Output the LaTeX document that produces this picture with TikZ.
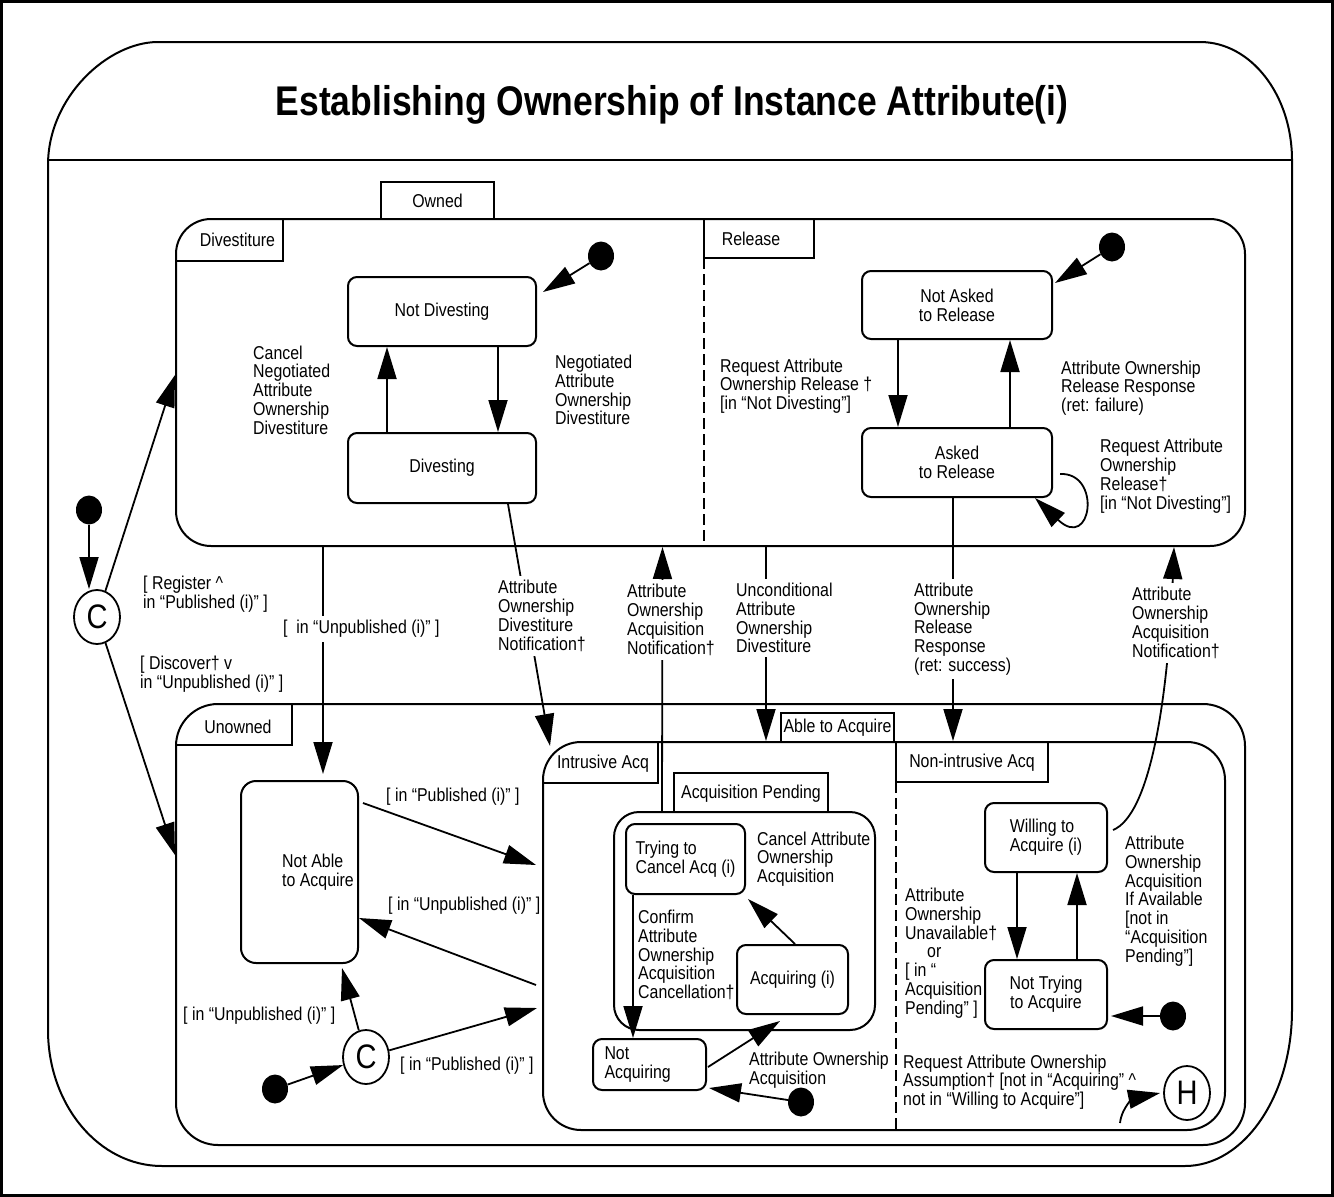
\documentclass[tikz,border=0pt]{standalone}
\usepackage{fontspec}
\setmainfont{Liberation Sans}[FakeStretch=0.855]
\usetikzlibrary{arrows.meta,shapes.geometric}
\newcommand\lblfont{\fontsize{18.6pt}{18.8pt}\selectfont}
\begin{document}
\begin{tikzpicture}[x=1pt,y=-1pt,
  lw/.style={line width=2pt},
  region/.style={draw, line width=2pt, inner sep=0pt},
  st/.style={draw, line width=2pt, rounded corners=9pt, inner sep=0pt, align=center, font=\lblfont},
  tab/.style={draw, line width=2pt},
  tablbl/.style={inner sep=0pt, font=\lblfont},
  lbl/.style={inner sep=0pt, align=left, anchor=west, font=\lblfont},
  wlbl/.style={lbl, fill=white, inner xsep=1pt, inner ysep=4pt},
  arr/.style={line width=1.8pt, -{Triangle[length=32pt,width=19pt]}},
  dot/.style={ellipse, fill=black, minimum width=26pt, minimum height=29pt, inner sep=0pt},
  pseudo/.style={ellipse, draw, line width=1.8pt, minimum width=46pt, minimum height=54pt, inner sep=0pt, font=\fontsize{34pt}{34pt}\selectfont},
  dashsep/.style={line width=1.6pt, dash pattern=on 11pt off 5pt}
]
\useasboundingbox (0,0) rectangle (1334,1197);
% page frame
\draw[line width=3pt] (1.5,1.5) rectangle (1332.5,1195.5);

% outer container with title compartment
\draw[lw] (48,165) .. controls (48,97) and (108,42) .. (158,42) -- (1200,42)
  .. controls (1251,42) and (1292,95) .. (1292,160) -- (1292,1010)
  .. controls (1292,1096) and (1244,1166) .. (1185,1166) -- (162,1166)
  .. controls (99,1166) and (48,1105) .. (48,1030) -- cycle;
\draw[lw] (48,160) -- (1292,160);
\node[font=\fontsize{41.5pt}{41.5pt}\selectfont\bfseries, anchor=base, inner sep=0pt] (title) at (672,115) {Establishing Ownership of Instance Attribute(i)};

% composite states
\node[region, rounded corners=35pt, minimum width=1069pt, minimum height=327pt] (owned) at (710.5,382.5) {};
\node[region, rounded corners=42pt, minimum width=1069pt, minimum height=441pt] (unowned) at (710.5,924.5) {};
\node[region, rounded corners=38pt, minimum width=682pt, minimum height=388pt] (able) at (884,936) {};
\node[region, rounded corners=25pt, minimum width=261pt, minimum height=218pt] (apend) at (744.5,921) {};

% tabs and concurrent region separators
\draw[tab] (381,219) |- (494,182) -- (494,219);
\node[tablbl] (towned) at (437.5,200.5) {Owned};
\draw[tab] (176,261) -| (283,219);
\node[tablbl] (tdiv) at (237.5,240) {Divestiture};
\draw[tab] (704,219) rectangle (814,258);
\node[tablbl] (trel) at (751,239) {Release};
\draw[dashsep] (704,258) -- (704,546);
\draw[tab] (176,745) -| (292,704);
\node[tablbl] (tunown) at (238,727) {Unowned};
\draw[tab] (781,742) |- (894,713) -- (894,742);
\node[tablbl] (table) at (837.5,728) {Able to Acquire};
\draw[tab] (543,783) -| (658,742);
\node[tablbl] (tintr) at (603,764) {Intrusive Acq};
\draw[tab] (896,742) rectangle (1048,782);
\node[tablbl] (tnonintr) at (972,763) {Non-intrusive Acq};
\draw[dashsep] (896,782) -- (896,1130);
\draw[tab] (674,812) |- (828,773) -- (828,812);
\node[tablbl] (tapend) at (751,794) {Acquisition Pending};

% simple states
\node[st, minimum width=188pt, minimum height=69pt] (nd) at (442,311.5) {Not Divesting};
\node[st, minimum width=188pt, minimum height=70pt] (dv) at (442,468) {Divesting};
\node[st, minimum width=190pt, minimum height=68pt] (nar) at (957,305) {Not Asked\\to Release};
\node[st, minimum width=190pt, minimum height=69pt] (atr) at (957,462.5) {Asked\\to Release};
\node[st, rounded corners=15pt, minimum width=117pt, minimum height=182pt] (naa) at (299.5,872) {};
\node[lbl] (naat) at (282,872) {Not Able\\to Acquire};
\node[st, minimum width=119pt, minimum height=70pt, align=left] (tca) at (685.5,859) {Trying to\\Cancel Acq (i)};
\node[st, minimum width=111pt, minimum height=69pt] (acq) at (792.5,979.5) {Acquiring (i)};
\node[st, minimum width=113pt, minimum height=51pt, text width=90pt, align=left] (nacq) at (649.5,1064.5) {Not\\Acquiring};
\node[st, minimum width=122pt, minimum height=69pt, align=left] (wta) at (1046,837.5) {Willing to\\Acquire (i)};
\node[st, minimum width=122pt, minimum height=69pt] (nta) at (1046,994.5) {Not Trying\\to Acquire};

% pseudo states
\node[dot] (i0) at (89,510) {};
\node[pseudo] (c1) at (97,617) {C};
\node[dot] (i1) at (601,256) {};
\node[dot] (i2) at (1112,247) {};
\node[pseudo] (c2) at (366,1057) {C};
\node[dot] (i3) at (275,1089) {};
\node[dot] (i4) at (801,1102) {};
\node[dot] (i5) at (1173,1016) {};
\node[pseudo] (hist) at (1187,1093) {H};
\coordinate (hs) at (1120,1123);

% transitions: top level
\draw[arr] (i0) -- (i0 |- c1.north);
\draw[arr] (c1) -- ([yshift=7.5pt]owned.west);
\draw[arr] (c1) -- ([yshift=69.5pt]unowned.west);

% Divestiture region
\draw[arr] (i1) -- ([shift={(6,16)}]nd.north east);
\draw[arr] ([xshift=-55pt]dv.north) -- ([xshift=-55pt]nd.south);
\draw[arr] ([xshift=56pt]nd.south) -- ([xshift=56pt]dv.north);

% Release region
\draw[arr] (i2) -- ([shift={(2,13)}]nar.north east);
\draw[arr] ([xshift=-59pt]nar.south) -- ([xshift=-59pt]atr.north);
\draw[arr] ([xshift=53pt]atr.north) -- ([xshift=53pt]nar.south);
\draw[arr] ([shift={(7,11.5)}]atr.east) .. controls (1102,472) and (1092,552) .. ([shift={(-18,0)}]atr.south east);

% Owned <-> Unowned
\draw[arr] ([xshift=-387.5pt]owned.south) -- ([shift={(23.5,-6)}]naa.north);
\draw[arr] ([xshift=66pt]dv.south) -- ([shift={(8,5)}]able.north west);
\draw[arr] ([xshift=-82.5pt]apend.north) -- ([xshift=-48pt]owned.south);
\draw[arr] ([xshift=55.5pt]owned.south) -- ([xshift=-118pt]able.north);
\draw[arr] ([xshift=-4pt]atr.south) -- ([xshift=69pt]able.north);
\draw[arr] ([shift={(5,-7.5)}]wta.east) .. controls (1150,815) and (1168,700) .. ([xshift=463.5pt]owned.south);

% Unowned region
\draw[arr] ([shift={(4,23)}]naa.north east) -- ([shift={(-6,-71)}]able.west);
\draw[arr] ([shift={(-6,49)}]able.west) -- ([shift={(0,46)}]naa.east);
\draw[arr] (c2) -- ([shift={(42.5,4)}]naa.south);
\draw[arr] (c2) -- ([shift={(-5,72)}]able.west);
\draw[arr] (i3) -- (c2);

% Intrusive Acq region
\draw[arr] ([xshift=-52.5pt]tca.south) -- ([xshift=-16.5pt]nacq.north);
\draw[arr] ([xshift=2.5pt]acq.north) -- ([shift={(2,4)}]tca.south east);
\draw[arr] ([shift={(1,2.5)}]nacq.east) -- ([shift={(-12.5,6)}]acq.south);
\draw[arr] (i4) -- ([shift={(2,23.5)}]nacq.east);

% Non-intrusive Acq region
\draw[arr] ([xshift=-29pt]wta.south) -- ([xshift=-29pt]nta.north);
\draw[arr] ([xshift=31pt]nta.north) -- ([xshift=31pt]wta.south);
\draw[arr] (i5) -- ([shift={(3,21.5)}]nta.east);
\draw[arr] (hs) .. controls (1122,1106) and (1135,1098) .. ([xshift=-3pt]hist.west);

% transition labels
\node[lbl] (l1) at (253,390) {Cancel\\Negotiated\\Attribute\\Ownership\\Divestiture};
\node[lbl] (l2) at (555,390) {Negotiated\\Attribute\\Ownership\\Divestiture};
\node[lbl] (l3) at (720,386) {Request Attribute\\Ownership Release †\\{[}in “Not Divesting”]};
\node[lbl] (l4) at (1061,388) {Attribute Ownership\\Release Response\\(ret: failure)};
\node[lbl] (l5) at (1100,476) {Request Attribute\\Ownership\\Release†\\{[}in “Not Divesting”]};
\node[lbl] (l6) at (143,594) {{[} Register \textasciicircum\\in “Published (i)” ]};
\node[lbl] (l7) at (140,674) {{[} Discover† v\\in “Unpublished (i)” ]};
\node[wlbl] (l8) at (282,629) {{[}\ \ in “Unpublished (i)” ]};
\node[wlbl] (l9) at (497,616) {Attribute\\Ownership\\Divestiture\\Notification†};
\node[wlbl] (l10) at (626,620) {Attribute\\Ownership\\Acquisition\\Notification†};
\node[wlbl] (l11) at (735,618) {Unconditional\\Attribute\\Ownership\\Divestiture};
\node[wlbl] (l12) at (913,629) {Attribute\\Ownership\\Release\\Response\\(ret: success)};
\node[wlbl] (l13) at (1131,623) {Attribute\\Ownership\\Acquisition\\Notification†};
\node[lbl] (l14) at (386,797) {{[} in “Published (i)” ]};
\node[lbl] (l15) at (388,906) {{[} in “Unpublished (i)” ]};
\node[lbl] (l16) at (183,1016) {{[} in “Unpublished (i)” ]};
\node[lbl] (l17) at (400,1066) {{[} in “Published (i)” ]};
\node[lbl] (l18) at (638,955) {Confirm\\Attribute\\Ownership\\Acquisition\\Cancellation†};
\node[lbl] (l19) at (757,859) {Cancel Attribute\\Ownership\\Acquisition};
\node[lbl] (l20) at (749,1070) {Attribute Ownership\\Acquisition};
\node[lbl] (l21) at (905,953) {Attribute\\Ownership\\Unavailable†\\\hspace*{22pt}or\\{[} in “\\Acquisition\\Pending” ]};
\node[lbl] (l22) at (1125,901) {Attribute\\Ownership\\Acquisition\\If Available\\{[}not in\\“Acquisition\\Pending”]};
\node[lbl] (l23) at (903,1082) {Request Attribute Ownership\\Assumption† {[}not in “Acquiring” \textasciicircum\\not in “Willing to Acquire”]};
\end{tikzpicture}
\end{document}
